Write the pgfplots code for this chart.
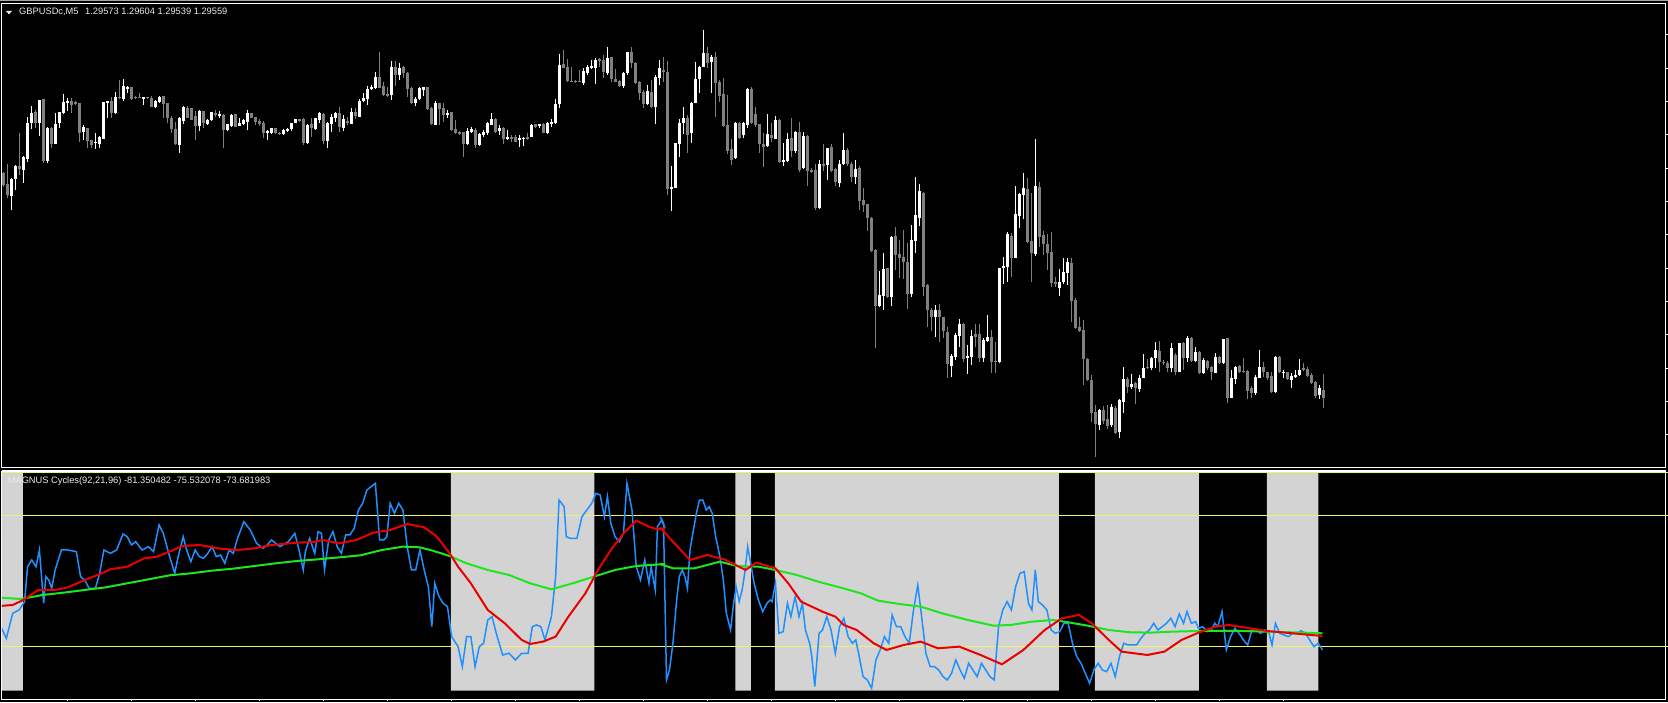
\documentclass[border=0pt]{standalone}
\usepackage{pgfplots}
\pgfplotsset{compat=1.18}
\usepackage{pgfplotstable}
\usepackage{fontspec}
\setmainfont{Liberation Sans}
\definecolor{bearc}{RGB}{128,128,128}
\definecolor{bullc}{RGB}{255,255,255}
\definecolor{zone}{RGB}{211,211,211}
\definecolor{lvl}{RGB}{240,240,120}
\definecolor{cblue}{RGB}{30,144,255}
\definecolor{cred}{RGB}{235,0,0}
\definecolor{cgreen}{RGB}{30,230,30}
\definecolor{txt}{RGB}{235,235,235}

\pgfplotsset{toppanel/.style={
  at={(2pt,234pt)}, anchor=south west,
  scale only axis, width=1664pt, height=464pt,
  xmin=-0.325, xmax=415.675,
  ymin=-1329, ymax=63,
}}

\pgfplotstableread{
i wt wb bt bb
2 460 555 462 512
3 420 495 423 463
5 392 473 395 435
6 275 410 293 403
7 243 313 265 295
9 225 332 225 295
11 305 415 308 408
13 265 357 297 357
14 262 310 262 295
15 207 268 232 265
16 218 258 228 233
20 300 345 305 322
23 325 372 350 355
24 332 370 335 357
25 230 342 230 342
26 228 280 228 235
28 200 268 215 265
30 162 228 183 222
31 182 203 185 192
35 215 240 216 220
38 225 250 228 245
39 212 235 215 232
44 275 383 278 360
45 242 297 245 288
49 255 318 258 303
51 283 300 285 298
52 260 288 262 285
54 258 280 268 272
56 298 318 298 315
57 268 305 270 303
59 280 303 293 302
60 283 300 285 296
61 255 315 263 290
66 315 345 318 322
67 308 328 310 325
70 313 330 315 328
71 308 320 312 318
72 293 318 295 313
73 282 295 283 293
76 298 357 300 355
78 278 315 280 312
79 262 293 263 285
81 292 370 295 348
82 268 322 275 298
83 262 290 263 280
85 270 318 282 308
87 250 298 262 297
89 222 276 228 275
90 205 232 218 228
91 182 240 192 222
92 180 195 185 192
93 142 192 157 190
97 108 225 125 210
99 115 165 128 150
103 215 243 222 235
104 185 225 190 222
105 185 212 187 195
108 228 300 233 300
111 255 280 263 270
116 308 360 318 358
117 305 325 312 320
119 325 362 327 360
120 315 335 320 330
121 290 330 293 325
122 265 300 282 300
124 300 330 308 318
126 315 345 337 342
129 330 365 340 345
130 335 362 338 342
132 298 336 300 335
134 296 308 298 303
136 292 328 295 325
137 282 305 290 298
138 222 297 238 295
139 87 248 120 238
145 130 180 138 175
146 120 150 125 143
147 105 132 122 128
148 100 177 105 130
151 67 150 98 145
155 140 190 145 182
156 82 150 82 145
161 180 240 198 238
163 150 298 155 245
164 105 180 128 158
167 423 557 487 493
168 355 490 355 488
169 283 395 293 358
170 245 328 280 295
172 232 353 233 325
173 112 235 162 235
174 123 203 125 163
175 15 127 85 127
177 90 205 95 112
183 290 402 293 400
185 292 338 295 330
186 188 308 193 300
191 268 365 327 363
193 272 343 285 342
195 355 422 405 412
196 325 410 342 408
198 318 385 320 378
200 322 432 333 430
204 405 552 418 550
206 368 465 370 420
209 405 485 418 473
210 325 420 375 418
213 405 478 432 455
219 738 845 810 843
220 685 855 732 813
222 632 842 635 815
227 600 815 645 808
228 455 685 570 648
229 478 602 498 578
233 840 935 855 875
237 988 1055 992 1022
238 925 1005 930 997
239 882 965 897 932
241 960 1047 992 1000
242 915 1020 932 995
245 940 1010 945 998
246 870 950 937 948
249 728 1015 728 1012
250 695 778 722 730
251 620 772 628 725
253 483 700 567 698
254 503 608 507 572
255 443 582 490 510
258 342 692 483 688
264 732 812 772 788
265 700 778 742 772
266 700 780 712 745
274 1153 1215 1155 1200
277 1138 1205 1145 1200
279 1122 1240 1125 1222
280 1025 1163 1062 1132
282 1048 1092 1077 1085
284 1050 1100 1058 1092
285 988 1060 1028 1058
287 995 1035 998 1030
288 950 1028 975 998
292 955 1040 970 1030
294 953 1042 955 1040
296 932 1010 938 998
298 965 1012 982 1008
300 998 1048 1005 1045
303 985 1045 997 1043
305 943 1018 943 1015
307 1035 1120 1058 1118
308 1022 1078 1025 1062
313 1050 1110 1055 1105
314 975 1060 1025 1058
318 992 1105 995 1102
320 1035 1058 1040 1045
322 1045 1090 1052 1065
323 1035 1058 1050 1055
324 1003 1052 1035 1050
329 1080 1122 1090 1110
}\bullT

\pgfplotstableread{
i wt wb bt bb
0 440 485 445 480
1 418 518 478 510
4 323 450 423 432
8 255 308 260 295
10 222 415 222 407
12 305 370 308 357
17 218 265 228 240
18 228 240 232 236
19 235 350 235 323
21 308 368 308 347
22 345 368 345 360
27 215 278 228 265
29 165 222 215 220
32 186 225 186 222
33 212 222 215 219
34 205 220 215 218
36 215 222 217 220
37 213 245 220 245
40 213 278 213 237
41 235 293 235 280
42 272 323 280 313
43 290 360 313 358
46 243 280 248 278
47 248 285 248 285
48 258 345 272 302
50 258 308 258 293
53 255 275 264 270
55 268 368 270 315
58 268 305 268 305
62 263 280 265 278
63 275 300 275 290
64 283 302 288 298
65 288 338 293 325
68 310 328 310 325
69 322 330 323 328
74 282 290 283 287
75 280 360 282 355
77 278 335 298 308
80 265 358 267 348
84 245 322 265 305
86 275 300 287 293
88 250 283 262 273
94 80 190 157 190
95 170 213 183 210
96 185 215 207 212
98 108 182 125 150
100 122 160 125 145
101 140 215 143 193
102 185 238 190 235
106 185 255 187 252
107 245 300 248 298
109 235 300 235 252
110 235 290 250 270
112 260 318 262 315
113 285 327 312 325
114 318 330 322 326
115 320 395 320 358
118 310 368 315 360
123 280 325 282 320
125 305 358 308 343
127 330 352 337 342
128 330 352 337 350
131 325 345 335 342
133 296 310 298 305
135 295 325 298 323
140 75 130 118 130
141 102 172 125 168
142 127 172 168 172
143 165 175 168 172
144 135 172 168 172
149 98 125 103 108
150 90 160 105 140
152 95 170 97 162
153 132 172 162 170
154 165 185 168 182
157 67 130 82 115
158 112 178 115 175
159 168 225 170 203
160 195 248 200 238
162 165 248 202 245
165 97 170 135 142
166 108 510 142 493
171 270 383 278 330
176 67 130 85 115
178 82 275 97 175
179 165 230 170 212
180 158 305 207 302
181 210 388 300 378
182 343 420 372 405
184 290 342 293 338
187 187 297 192 295
188 247 305 268 300
189 297 385 298 358
190 325 425 357 365
192 295 352 330 340
194 283 415 285 412
197 280 395 340 378
199 290 440 322 435
201 330 482 333 438
202 430 445 435 440
203 418 555 435 550
205 357 437 417 422
207 357 440 367 438
208 428 482 433 472
211 370 422 375 418
212 410 470 418 455
214 422 555 430 528
215 490 562 525 540
216 536 618 538 578
217 575 682 578 678
218 672 968 675 843
221 728 818 730 815
223 605 735 632 690
224 645 758 687 700
225 615 762 695 712
226 655 852 710 808
230 500 812 505 785
231 778 905 780 855
232 850 918 855 875
234 838 950 855 875
235 875 940 877 918
236 905 1060 920 1017
240 895 1010 897 1002
243 898 965 927 935
244 897 1010 927 998
247 915 1045 935 1010
248 950 1045 1008 1012
252 625 755 632 700
256 458 655 492 652
257 505 770 648 685
259 472 665 487 635
260 617 690 630 658
261 628 735 657 683
262 622 785 680 775
263 755 785 772 778
267 700 892 713 828
268 820 913 825 910
269 875 920 905 918
270 885 1080 915 1003
271 1000 1068 1002 1065
272 1050 1190 1065 1163
273 1140 1295 1160 1198
275 1142 1198 1155 1187
276 1140 1213 1182 1203
278 1143 1228 1148 1225
281 1055 1105 1062 1085
283 1072 1137 1075 1090
286 1002 1032 1025 1030
289 948 1040 978 1012
290 1005 1020 1010 1015
291 1008 1042 1015 1030
293 985 1050 990 1040
295 950 1035 955 998
297 935 1012 938 1008
299 978 1048 980 1043
301 1005 1035 1008 1030
302 1022 1065 1025 1040
304 992 1018 997 1015
306 940 1133 940 1118
309 1020 1043 1023 1040
310 998 1045 1038 1042
311 1035 1122 1038 1097
312 1082 1120 1090 1105
315 1012 1055 1025 1042
316 1040 1065 1042 1058
317 1040 1105 1052 1102
319 993 1045 995 1042
321 1040 1065 1042 1062
325 1015 1038 1028 1036
326 1027 1055 1033 1052
327 1045 1078 1050 1073
328 1068 1118 1070 1112
330 1048 1150 1095 1118
}\bearT

\pgfplotstableread{
xd yd
0 383
50 387
100 375
150 368
200 360
250 352
300 340
350 328
400 316
450 310
500 302
550 296
600 288
650 280
700 273
750 268
800 262
850 256
900 240
950 230
990 232
1020 242
1060 258
1100 280
1150 300
1200 315
1250 340
1300 358
1350 340
1400 320
1450 300
1500 288
1568 282
}\greenA
\pgfplotstableread{
xd yd
0 282
30 295
80 295
140 275
180 288
230 290
270 300
320 315
370 335
420 352
470 370
510 392
560 402
610 410
660 430
720 450
780 467
820 465
870 455
920 450
960 458
1000 467
1050 480
1100 487
1150 488
1200 485
1260 483
1300 483
1360 483
1420 485
1480 487
1550 490
}\greenB
\pgfplotstableread{
xd yd
0 408
30 405
55 390
90 360
130 360
160 352
200 330
240 310
260 298
300 290
340 265
370 260
400 245
430 228
470 225
520 236
560 240
600 235
640 225
700 218
740 216
760 210
800 220
840 210
880 188
920 180
960 162
1000 172
1030 200
1060 250
1080 290
1110 340
1150 420
1190 460
1230 510
1250 522
1280 515
1310 500
1340 440
1380 370
1410 300
1440 240
1470 190
1500 152
1530 170
1550 178
1568 175
}\redA
\pgfplotstableread{
xd yd
0 172
30 215
70 270
110 255
150 268
200 300
225 278
270 295
300 340
330 395
380 425
410 440
430 465
460 480
500 520
530 540
570 525
610 515
650 535
700 530
750 555
800 583
850 540
900 480
940 445
980 435
1010 460
1050 510
1080 545
1140 555
1180 545
1220 510
1260 488
1300 470
1330 465
1380 475
1420 483
1480 490
1550 498
}\redB
\pgfplotstableread{
xd yd
0 465
15 505
30 430
45 420
58 395
65 290
75 270
85 290
93 240
98 320
103 400
108 320
115 330
122 355
130 300
145 240
160 240
180 245
190 320
200 330
210 355
225 355
235 310
245 240
260 250
275 240
290 192
300 200
310 225
320 215
335 240
350 230
362 245
375 165
385 190
400 260
412 310
420 260
432 200
440 240
450 275
460 240
470 260
480 265
490 250
500 230
510 260
520 255
530 280
540 240
550 250
560 205
575 155
590 180
605 220
620 235
630 225
640 210
660 230
680 215
695 190
705 240
715 300
720 245
730 205
742 250
750 185
758 190
765 300
775 210
785 185
795 230
805 250
815 195
825 195
835 175
845 120
855 100
865 60
875 50
885 40
895 210
905 210
912 200
920 100
930 130
940 100
950 120
960 230
970 300
980 300
990 240
1000 300
1010 350
1018 470
1025 340
1035 380
1045 400
1055 410
1065 500
1080 530
1090 590
1100 500
1110 500
1120 590
1130 530
1140 520
1150 450
1160 440
1170 490
1185 555
1200 550
1215 570
1230 550
1245 550
1255 470
1265 465
1275 470
1285 510
1300 440
1310 320
1318 90
1330 110
1335 200
1345 205
1360 205
1372 140
1395 100
1405 70
1415 75
1425 140
1432 80
1440 160
1450 200
1460 215
1470 190
1478 40
1490 120
1500 290
1510 330
1520 270
1530 340
1535 290
1545 360
1550 170
1560 150
1568 175
}\blueA
\pgfplotstableread{
xd yd
0 140
8 160
15 630
22 600
30 520
38 400
45 320
52 300
58 320
64 355
70 240
78 180
85 130
92 90
100 90
108 120
115 110
122 130
130 200
140 260
148 330
155 430
165 480
172 400
178 350
185 395
192 360
198 310
205 230
212 280
220 340
230 390
240 425
250 400
258 390
262 395
270 340
278 490
288 485
298 400
306 440
316 380
325 440
333 400
340 480
350 520
355 560
362 650
372 490
380 480
390 440
400 480
410 550
420 470
430 445
440 500
450 520
458 510
466 560
475 620
485 630
495 655
505 570
515 540
525 500
535 520
543 435
553 470
563 470
573 500
583 520
593 420
603 345
612 440
622 550
632 590
642 590
652 600
662 620
672 630
682 610
692 570
702 600
712 625
722 580
732 600
742 620
752 580
762 600
772 620
782 630
792 470
802 420
812 395
822 420
832 350
842 310
852 305
862 400
870 420
878 300
885 395
895 405
905 420
915 480
925 490
935 485
945 460
955 460
965 520
975 560
985 580
995 610
1005 640
1015 600
1025 580
1035 600
1045 605
1055 580
1065 620
1075 560
1085 520
1095 525
1105 525
1115 525
1125 505
1135 490
1145 480
1155 460
1165 480
1175 470
1185 460
1195 445
1205 470
1215 432
1225 460
1233 425
1243 460
1253 455
1260 475
1270 470
1280 485
1290 480
1298 460
1305 470
1315 425
1325 540
1335 500
1345 475
1355 490
1365 510
1375 525
1385 480
1395 480
1405 490
1415 480
1425 490
1432 525
1440 460
1450 490
1460 495
1470 500
1480 490
1490 490
1500 482
1510 490
1520 510
1530 530
1540 520
1550 540
}\blueB

\begin{document}
\begin{tikzpicture}[x=1pt,y=1pt]
\fill[black] (0,0) rectangle (1668,702);
\draw[gray!70, line width=1pt] (0,701.5) -- (1668,701.5);

% ---------------- price panel: frame ----------------
\begin{axis}[toppanel,
  axis line style={white, line width=1pt},
  xtick=\empty, ytick={-1230,-1130,...,-30}, yticklabels={}, ytick pos=right,
  tick align=outside, major tick length=2pt,
  ytick style={white, line width=1pt},
]
\addplot[draw=none] coordinates {(0,0) (1,0)};
\end{axis}

% bear wicks
\begin{axis}[toppanel, hide axis]
\addplot[bearc, line width=1pt, quiver={u=0, v=\thisrow{wt}-\thisrow{wb}}, -]
  table[x=i, y expr=-\thisrow{wt}] {\bearT};
\end{axis}

% bull wicks
\begin{axis}[toppanel, hide axis]
\addplot[bullc, mark=none, draw=none,
  error bars/.cd, y dir=both, y explicit, error mark=none,
  error bar style={line width=1pt, draw=bullc}]
  table[x=i, y expr=-(\thisrow{wt}+\thisrow{wb})/2, y error expr=(\thisrow{wb}-\thisrow{wt})/2] {\bullT};
\end{axis}

% bear bodies
\begin{axis}[toppanel, hide axis]
\addplot[bearc, line width=3pt, quiver={u=0, v=\thisrow{bt}-\thisrow{bb}}, -]
  table[x=i, y expr=-\thisrow{bt}] {\bearT};
\end{axis}

% bull bodies
\begin{axis}[toppanel, hide axis]
\addplot[bullc, mark=none, draw=none,
  error bars/.cd, y dir=both, y explicit, error mark=none,
  error bar style={line width=3pt, draw=bullc}]
  table[x=i, y expr=-(\thisrow{bt}+\thisrow{bb})/2, y error expr=(\thisrow{bb}-\thisrow{bt})/2] {\bullT};
\end{axis}

% ---------------- indicator panel ----------------
\begin{axis}[
  at={(2pt,3pt)}, anchor=south west,
  scale only axis, width=1664pt, height=228pt,
  xmin=-0.325, xmax=415.675,
  ymin=-103.85, ymax=0.6,
  axis line style={white, line width=1pt},
  xtick={16,32,...,320}, xticklabels={}, xtick pos=left,
  ytick={0,-20,-80}, yticklabels={}, ytick pos=right,
  tick align=outside, major tick length=2pt,
  xtick style={white, line width=1pt},
  ytick style={lvl, line width=1pt},
]
\addplot[fill=zone, draw=none] coordinates {(-0.4,-100) (4.9,-100) (4.9,0) (-0.4,0)} \closedcycle;
\addplot[fill=zone, draw=none] coordinates {(111.9,-100) (147.8,-100) (147.8,0) (111.9,0)} \closedcycle;
\addplot[fill=zone, draw=none] coordinates {(183.0,-100) (186.9,-100) (186.9,0) (183.0,0)} \closedcycle;
\addplot[fill=zone, draw=none] coordinates {(192.9,-100) (263.9,-100) (263.9,0) (192.9,0)} \closedcycle;
\addplot[fill=zone, draw=none] coordinates {(272.9,-100) (298.9,-100) (298.9,0) (272.9,0)} \closedcycle;
\addplot[fill=zone, draw=none] coordinates {(315.9,-100) (328.8,-100) (328.8,0) (315.9,0)} \closedcycle;

\addplot[lvl, line width=1pt] coordinates {(-1,0) (420,0)};
\addplot[lvl, line width=1pt] coordinates {(-1,-20) (420,-20)};
\addplot[lvl, line width=1pt] coordinates {(-1,-80) (420,-80)};

\addplot[cblue, line width=1.5pt] table[x expr={\thisrow{xd}/9.43-0.83}, y expr={-(\thisrow{yd}-6.9)/6.55}] {\blueA};
\addplot[cblue, line width=1.5pt] table[x expr={164.2+\thisrow{xd}/9.36}, y expr={-(\thisrow{yd}-6.9)/6.55}] {\blueB};
\addplot[cgreen, line width=2pt] table[x expr={\thisrow{xd}/9.43-0.83}, y expr={-(\thisrow{yd}-6.9)/6.55}] {\greenA};
\addplot[cgreen, line width=2pt] table[x expr={164.2+\thisrow{xd}/9.36}, y expr={-(\thisrow{yd}-6.9)/6.55}] {\greenB};
\addplot[cred, line width=2pt] table[x expr={\thisrow{xd}/9.43-0.83}, y expr={-(\thisrow{yd}-6.9)/6.55}] {\redA};
\addplot[cred, line width=2pt] table[x expr={164.2+\thisrow{xd}/9.36}, y expr={-(\thisrow{yd}-6.9)/6.55}] {\redB};
\end{axis}

% panel separator (double line)
\draw[white, line width=1pt] (2,234) -- (1666,234);
\draw[white, line width=1pt] (2,231) -- (1666,231);

% labels
\fill[txt] (6,691) -- (12,691) -- (9,687.5) -- cycle;
\node[anchor=base west, inner sep=0pt, text=txt, font=\fontsize{9.3pt}{11pt}\selectfont] at (19,687)
  {GBPUSDc,M5\hspace{4pt} 1.29573 1.29604 1.29539 1.29559};
\node[anchor=base west, inner sep=0pt, text=txt, font=\fontsize{9.3pt}{11pt}\selectfont] at (7.6,218.7)
  {MAGNUS Cycles(92,21,96) -81.350482 -75.532078 -73.681983};

\pgfresetboundingbox
\useasboundingbox (0,0) rectangle (1668,702);
\end{tikzpicture}
\end{document}
